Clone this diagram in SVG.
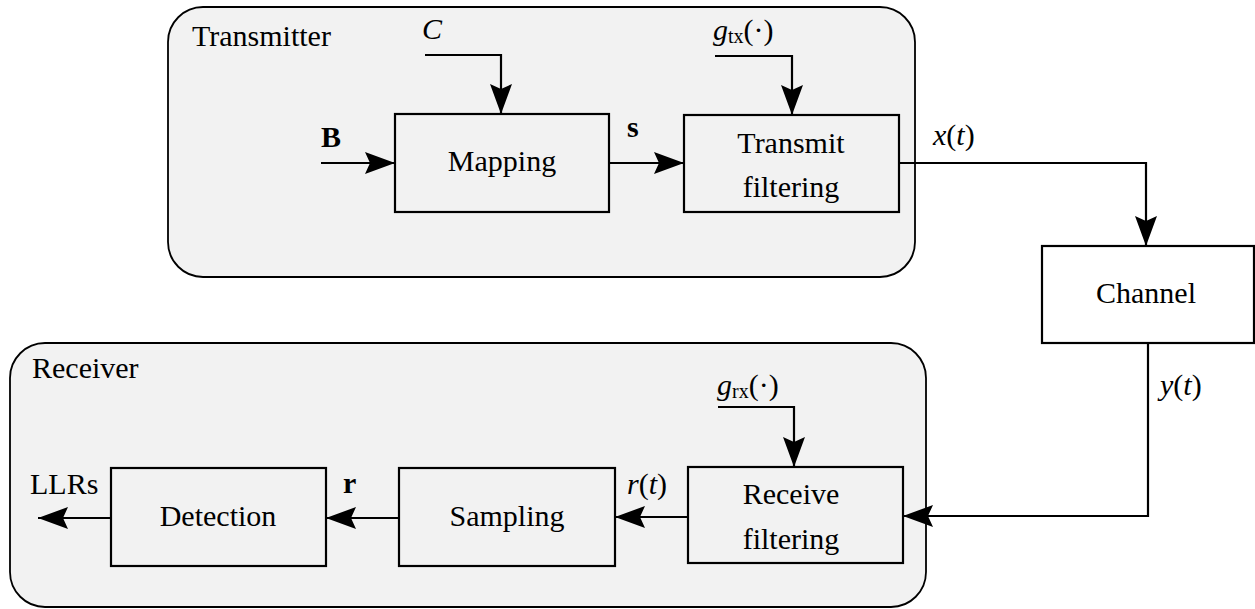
<svg xmlns="http://www.w3.org/2000/svg" width="1255" height="609" viewBox="0 0 1255 609">
<style>
  text { font-family: "Liberation Serif", "Times New Roman", Tinos, "Nimbus Roman", "Nimbus Roman No9 L", FreeSerif, "Noto Serif", "DejaVu Serif", Times, serif; font-size: 30px; fill: #000; }
  .c { text-anchor: middle; }
  .it { font-style: italic; }
  .bf { font-weight: bold; }
  .sub { font-size: 20px; }
  .box { fill: none; stroke: #000; stroke-width: 2.2; }
  .wbox { fill: #fff; stroke: #000; stroke-width: 2.2; }
  .cont { fill: #f2f2f2; stroke: #000; stroke-width: 1.8; }
  .conn { fill: none; stroke: #000; stroke-width: 2.2; marker-end: url(#arr); }
</style>
<defs>
  <marker id="arr" markerUnits="userSpaceOnUse" markerWidth="32" markerHeight="24" viewBox="0 -12 32 24" refX="30" refY="0" orient="auto">
    <path d="M0,-11 L30,0 L0,11 L5,0 z" fill="#000"/>
  </marker>
</defs>
<rect width="1255" height="609" fill="#fff"/>

<g id="transmitter">
  <rect class="cont" x="168" y="7" width="747" height="270" rx="35" ry="35"/>
  <text x="192" y="46">Transmitter</text>
</g>
<g id="receiver">
  <rect class="cont" x="10" y="343" width="916" height="264" rx="35" ry="35"/>
  <text x="32" y="378">Receiver</text>
</g>

<g id="mapping">
  <rect class="box" x="395" y="114" width="214" height="98"/>
  <text class="c" x="502" y="171">Mapping</text>
</g>
<g id="transmit-filtering">
  <rect class="box" x="684" y="115" width="215" height="97"/>
  <text class="c" x="791" y="153">Transmit</text>
  <text class="c" x="791" y="197">filtering</text>
</g>
<g id="channel">
  <rect class="wbox" x="1042" y="246" width="212" height="97"/>
  <text class="c" x="1146" y="303">Channel</text>
</g>
<g id="receive-filtering">
  <rect class="box" x="688" y="467" width="215" height="96"/>
  <text class="c" x="791" y="504">Receive</text>
  <text class="c" x="791" y="549">filtering</text>
</g>
<g id="sampling">
  <rect class="box" x="399" y="468" width="216" height="98"/>
  <text class="c" x="507" y="526">Sampling</text>
</g>
<g id="detection">
  <rect class="box" x="111" y="468" width="215" height="98"/>
  <text class="c" x="218" y="526">Detection</text>
</g>

<g id="connectors">
  <path class="conn" d="M321,163 H395"/>
  <path class="conn" d="M425,55 H501 V114"/>
  <path class="conn" d="M609,163 H684"/>
  <path class="conn" d="M715,56 H792 V115"/>
  <path class="conn" d="M899,163 H1146 V246"/>
  <path class="conn" d="M1148,343 V516 H903"/>
  <path class="conn" d="M718,407 H794 V467"/>
  <path class="conn" d="M688,517 H615"/>
  <path class="conn" d="M399,518 H326"/>
  <path class="conn" d="M111,518 H38"/>
</g>

<g id="labels">
  <text class="bf" x="321" y="147">B</text>
  <text class="it" x="422" y="39">C</text>
  <text class="bf" x="627" y="137">s</text>
  <text x="713" y="40"><tspan class="it">g</tspan><tspan class="sub" dy="3">tx</tspan><tspan dy="-3">(·)</tspan></text>
  <text x="933" y="145"><tspan class="it">x</tspan>(<tspan class="it">t</tspan>)</text>
  <text x="1160" y="395"><tspan class="it">y</tspan>(<tspan class="it">t</tspan>)</text>
  <text x="717" y="395"><tspan class="it">g</tspan><tspan class="sub" dy="3">rx</tspan><tspan dy="-3">(·)</tspan></text>
  <text x="627" y="494"><tspan class="it">r</tspan>(<tspan class="it">t</tspan>)</text>
  <text class="bf" x="343" y="493">r</text>
  <text x="30" y="494">LLRs</text>
</g>
</svg>
